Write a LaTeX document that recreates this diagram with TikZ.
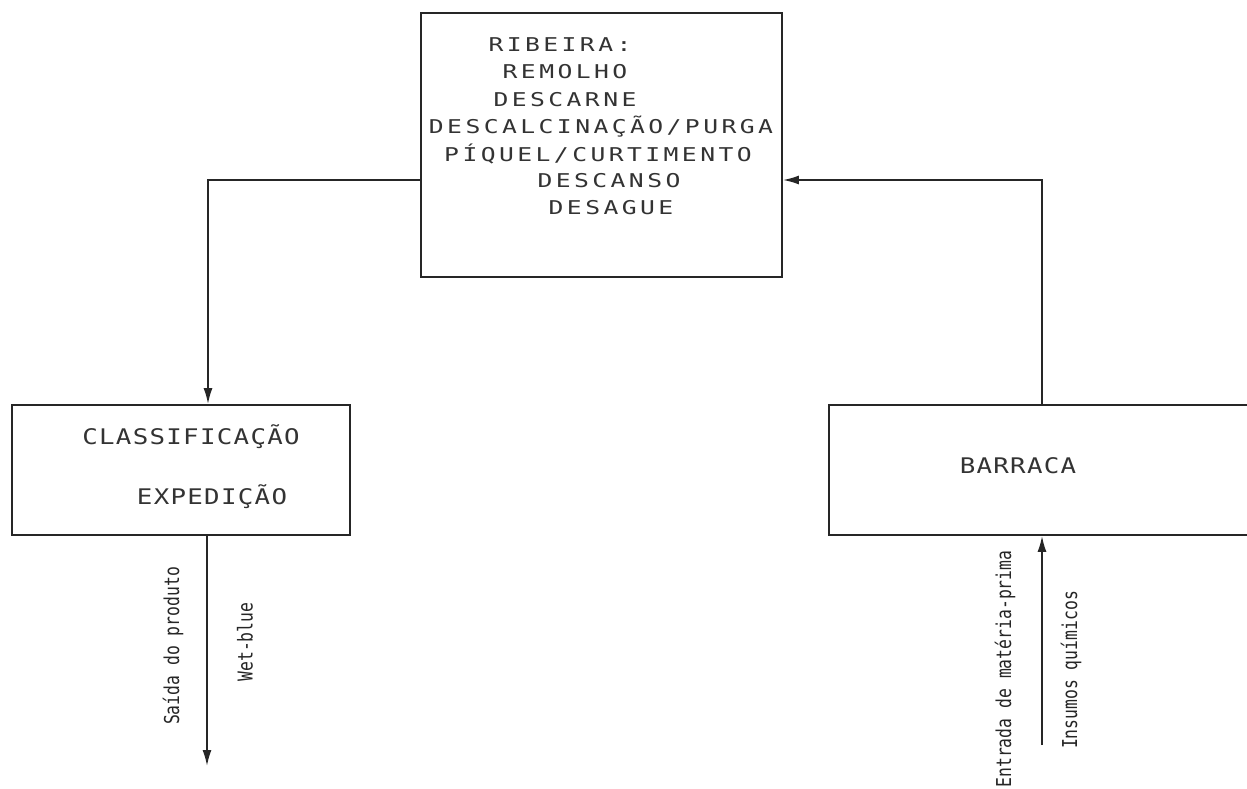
\documentclass[tikz,border=0pt]{standalone}
\usepackage{fontspec}
\usetikzlibrary{arrows.meta}
\newfontfamily\topfont[FakeStretch=1.3,LetterSpace=18]{DejaVu Sans Mono}
\newfontfamily\bigfont[FakeStretch=1.2,LetterSpace=6]{DejaVu Sans Mono}
\newfontfamily\labfont[FakeStretch=0.8]{DejaVu Sans Mono}
\begin{document}
\begin{tikzpicture}[x=1pt,y=-1pt,
  ink/.style={draw=black!85,line width=1.8pt},
  procbox/.style={ink,rectangle,inner sep=0pt},
  toptext/.style={inner sep=0pt,text=black!80,font=\topfont\fontsize{19}{20}\selectfont},
  bigtext/.style={inner sep=0pt,text=black!80,font=\bigfont\fontsize{21.5}{22}\selectfont},
  conn/.style={ink,-{Latex[length=16pt,width=9pt]}},
  lab/.style={rotate=90,inner sep=0pt,text=black!85,font=\labfont\fontsize{20.5}{20}\selectfont}]
\useasboundingbox (0,0) rectangle (1247,789);
\fill[white] (0,0) rectangle (1247,789);

% boxes
\node[procbox,minimum width=361pt,minimum height=264pt] (top) at (601.5,145) {};
\node[procbox,minimum width=338pt,minimum height=130pt] (cls) at (181,470) {};
\node[procbox,minimum width=440pt,minimum height=130pt] (bar) at (1049,470) {};

% texts
\node[toptext] (t1) at (560,45) {RIBEIRA:};
\node[toptext] (t2) at (565,72) {REMOLHO};
\node[toptext] (t3) at (565,100) {DESCARNE};
\node[toptext] (t4) at (601,127) {DESCALCINAÇÃO/PURGA};
\node[toptext] (t5) at (598,154) {PÍQUEL/CURTIMENTO};
\node[toptext] (t6) at (609,181) {DESCANSO};
\node[toptext] (t7) at (611,208) {DESAGUE};

\node[bigtext] (c1) at (191,437) {CLASSIFICAÇÃO};
\node[bigtext] (c2) at (212,497) {EXPEDIÇÃO};
\node[bigtext] (b1) at (1018,466) {BARRACA};

% connectors
\coordinate (tl) at ([yshift=-35pt]top.west);
\coordinate (tr) at ([yshift=-35pt]top.east);
\coordinate (clsin) at (cls.north -| 208,0);
\coordinate (clsout) at (cls.south -| 207,0);
\coordinate (barup) at (bar.north -| 1042,0);
\coordinate (bardn) at (bar.south -| 1042,0);
\coordinate (outL) at (207,766);
\coordinate (inR) at (1042,745);

\draw[conn] (tl) -| (clsin);
\draw[conn] (barup) |- (tr);
\draw[conn] (clsout) -- (outL);
\draw[conn] (inR) -- (bardn);

\node[lab] (l1) at (173,646) {Saída do produto};
\node[lab] (l2) at (245,642) {Wet-blue};
\node[lab] (l3) at (1005,669) {Entrada de matéria-prima};
\node[lab] (l4) at (1071,670) {Insumos químicos};
\end{tikzpicture}
\end{document}
